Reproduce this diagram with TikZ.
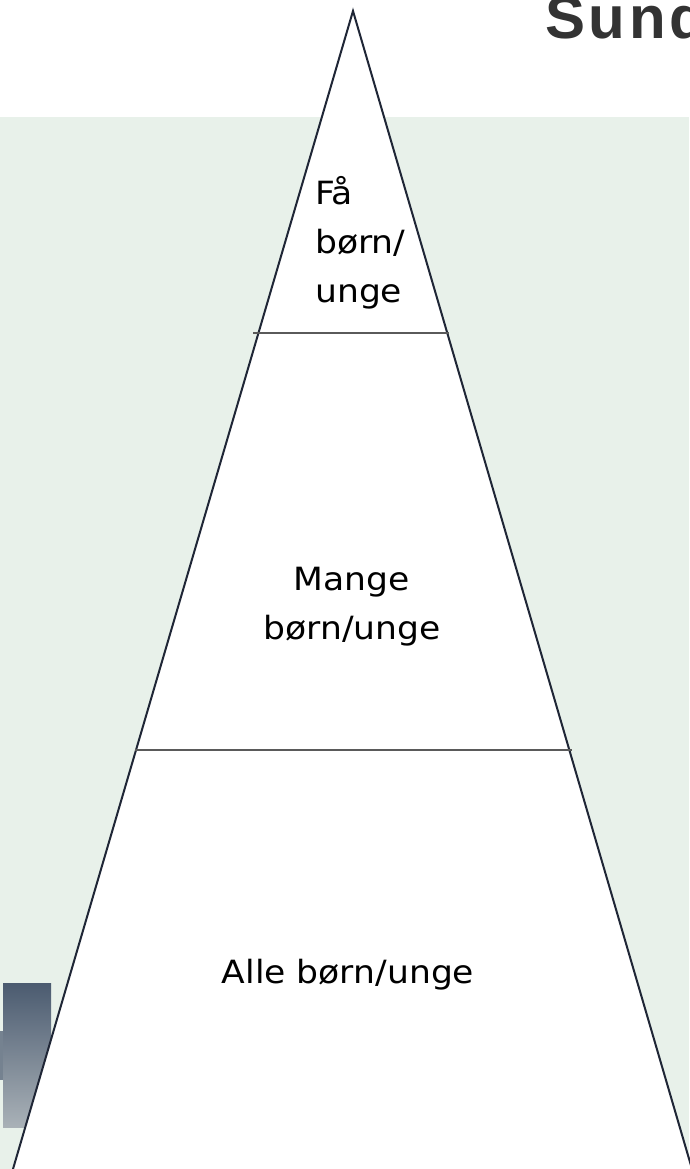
\documentclass[tikz,border=0pt]{standalone}
\usepackage{fontspec}
\setmainfont{DejaVu Sans}[FakeStretch=1.08]
\newfontfamily\headfont{Liberation Sans}[LetterSpace=6]

\definecolor{bggreen}{HTML}{E8F1EA}
\definecolor{edgenavy}{HTML}{1F2636}
\definecolor{tiergray}{HTML}{5A5A5A}
\definecolor{headgray}{HTML}{333333}
\definecolor{slatetop}{HTML}{4B5B70}
\definecolor{slatebot}{HTML}{A9B1B7}

\begin{document}
\begin{tikzpicture}[x=1pt, y=-1pt,
    lbl/.style={inner sep=0pt, font=\fontsize{32}{49}\selectfont},
    tier/.style={draw=tiergray, line width=1.5pt}]
  \useasboundingbox (0,0) rectangle (689,1169);
  % background
  \fill[white] (0,0) rectangle (689,117);
  \fill[bggreen] (0,117) rectangle (689,1169);
  \node[anchor=base west, inner sep=0pt, text=headgray,
        font=\headfont\bfseries\fontsize{60}{66}\selectfont] (head) at (545,39) {Sund};
  % slate block at the left
  \shade[top color=slatetop, bottom color=slatebot] (3,983) rectangle (51,1127);
  \fill[slatetop!55!slatebot] (0,1031) rectangle (3,1080);
  % pyramid
  \coordinate (apex) at (353,11);
  \coordinate (bl) at (13,1169);
  \coordinate (br) at (692,1169);
  \fill[white] (bl) -- (apex) -- (br) -- cycle;
  \draw[edgenavy, line width=2pt] (bl) -- (apex) -- (br);
  \coordinate (t1l) at (253,333);
  \coordinate (t1r) at (449,333);
  \coordinate (t2l) at (135,750);
  \coordinate (t2r) at (572,750);
  \draw[tier] (t1l) -- (t1r);
  \draw[tier] (t2l) -- (t2r);
  % labels
  \node[lbl, anchor=base west, align=left] (few) at (315,302) {Få\\børn/\\unge};
  \node[lbl, anchor=base, align=center] (many) at (352,639) {Mange\\børn/unge};
  \node[lbl, anchor=base] (all) at (348,983) {Alle børn/unge};
\end{tikzpicture}
\end{document}
